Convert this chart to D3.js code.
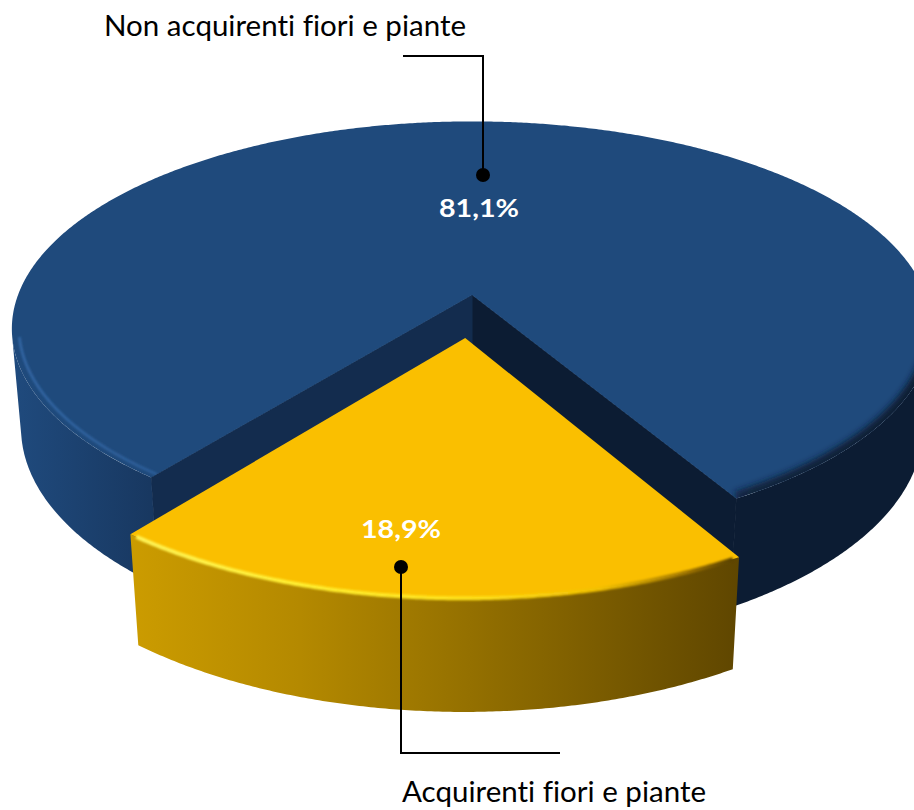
<!DOCTYPE html>
<html><head><meta charset="utf-8">
<script src="https://cdn.jsdelivr.net/npm/d3@7"></script>
<style>html,body{margin:0;padding:0;background:#fff;} svg{display:block;} text{font-variant-ligatures:none;font-feature-settings:"liga" 0,"clig" 0;}</style>
</head><body>
<svg id="chart" width="914" height="810"></svg>
<script>
// ---- data ----
const categories = ["Non acquirenti fiori e piante", "Acquirenti fiori e piante"];
const values = [81.1, 18.9];
const valueLabels = ["81,1%", "18,9%"];
const explode = [0, 0.2065];

// ---- styles / layout ----
const topColors = ["#1f4a7c", "#fabf00"];
const cutColors = [["#0c1c33", "#132c4e"], ["#7a5a00", "#a07800"]];
const sideStops = [
  [[0, "#204c80"], [150, "#183861"], [480, "#0f2444"], [720, "#0c1c33"], [914, "#0c1c33"]],
  [[120, "#cd9d00"], [300, "#b48900"], [470, "#947000"], [740, "#5f4600"]]
];
const X0 = 472, Y0 = 295, F = 2497, D = 5.5, phi = 26.4 * Math.PI / 180, depthH = 0.2456;
const startDeg = 30;
const valueLabelPos = [[479, 207], [401, 528]];
const leaderDots = [[483, 175], [401, 567]];
const leaderPaths = [[[403, 56], [483, 56], [483, 175]], [[401, 567], [401, 753], [560, 753]]];
const catLabelPos = [[104, 36, 362], [402, 802, 304]];

const sinP = Math.sin(phi), cosP = Math.cos(phi);
function proj(x, y, z) {
  const d = D - y * sinP - z * cosP;
  return [X0 + F * x / d, Y0 - F * (y * cosP - z * sinP) / d];
}

const svg = d3.select("#chart");
const defs = svg.append("defs");
const line = d3.line();

function addGrad(id, stops) {
  const g = defs.append("linearGradient").attr("id", id)
    .attr("gradientUnits", "userSpaceOnUse").attr("x1", 0).attr("x2", 914).attr("y1", 0).attr("y2", 0);
  stops.forEach(s => g.append("stop").attr("offset", s[0] / 914).attr("stop-color", s[1])
    .attr("stop-opacity", s.length > 2 ? s[2] : 1));
}
sideStops.forEach((s, i) => addGrad("side" + i, s));
addGrad("blueRim", [[0, "#3a70b2", 0.8], [160, "#3467a6", 0.7], [330, "#2d5d98", 0.3], [600, "#1f4a7c", 0], [914, "#1f4a7c", 0]]);
addGrad("blueShade", [[0, "#0c1c33", 0], [560, "#0c1c33", 0], [760, "#0c1c33", 0.9], [914, "#0c1c33", 1]]);
addGrad("yellowRim", [[120, "#fff45a"], [300, "#ffee30"], [470, "#ffe11a"], [600, "#f2c000"], [690, "#9c7200"], [740, "#4e3a00"]]);
defs.append("filter").attr("id", "blur1").append("feGaussianBlur").attr("stdDeviation", 1.2);
defs.append("filter").attr("id", "blur3").attr("x", "-20%").attr("y", "-20%").attr("width", "140%").attr("height", "140%")
  .append("feGaussianBlur").attr("stdDeviation", 3);

const pie = d3.pie().sort(null).value(d => d)
  .startAngle(startDeg * Math.PI / 180).endAngle(startDeg * Math.PI / 180 + 2 * Math.PI);
const arcs = pie(values);

function geom(a, i) {
  const mid = (a.startAngle + a.endAngle) / 2;
  const ox = explode[i] * Math.sin(mid), oz = explode[i] * Math.cos(mid);
  const P = (r, t, y) => proj(ox + r * Math.sin(t), y, oz + r * Math.cos(t));
  return { ox, oz, P, a0: a.startAngle, a1: a.endAngle };
}
function arcPts(g, r, t0, t1, y) {
  const n = Math.max(2, Math.ceil(Math.abs(t1 - t0) / (0.4 * Math.PI / 180)));
  return d3.range(n + 1).map(k => g.P(r, t0 + (t1 - t0) * k / n, y));
}
function facing(g, t) {
  const px = g.ox + Math.sin(t), pz = g.oz + Math.cos(t);
  return Math.sin(t) * (-px) + Math.cos(t) * (D * cosP - pz) > 0;
}
function runs(g) {
  const step = 0.1 * Math.PI / 180, out = [];
  let cur = null;
  for (let t = g.a0; t <= g.a1 + step; t += step) {
    const tt = Math.min(t, g.a1);
    if (facing(g, tt)) { if (!cur) cur = [tt, tt]; else cur[1] = tt; }
    else if (cur) { out.push(cur); cur = null; }
    if (tt === g.a1) break;
  }
  if (cur) out.push(cur);
  return out;
}
function cutFacing(g, t, sign) {
  const nx = sign * Math.cos(t), nz = -sign * Math.sin(t);
  return nx * (-g.ox) + nz * (D * cosP - g.oz) > 0;
}

arcs.forEach((a, i) => {
  const g = geom(a, i);
  const layer = svg.append("g").attr("class", "slice" + i);
  // cut faces (drawn first so the outer wall edge sits on top cleanly)
  [[g.a0, -1, 0], [g.a1, 1, 1]].forEach(([t, sign, k]) => {
    if (!cutFacing(g, t, sign)) return;
    const pts = [g.P(0, t, 0), g.P(1, t, 0), g.P(1, t, -depthH), g.P(0, t, -depthH)];
    layer.append("path").attr("d", line(pts) + "Z").attr("fill", cutColors[i][k])
      .attr("stroke", cutColors[i][k]).attr("stroke-width", 1).attr("stroke-linejoin", "round");
  });
  // outer wall
  runs(g).forEach(([s, e]) => {
    const pts = arcPts(g, 1, s, e, 0).concat(arcPts(g, 1, e, s, -depthH));
    layer.append("path").attr("d", line(pts) + "Z").attr("fill", `url(#side${i})`);
  });
  // top face
  const topPts = [g.P(0, 0, 0)].concat(arcPts(g, 1, g.a0, g.a1, 0));
  const topD = line(topPts) + "Z";
  layer.append("path").attr("d", topD).attr("fill", topColors[i]);
  const clipId = "clipTop" + i;
  defs.append("clipPath").attr("id", clipId).append("path").attr("d", topD);
  // bevel rim
  if (i === 0) {
    const rim = layer.append("g").attr("clip-path", `url(#${clipId})`);
    runs(g).forEach(([s, e]) => {
      rim.append("path").attr("d", line(arcPts(g, 0.985, s, e, 0))).attr("fill", "none")
        .attr("stroke", "url(#blueRim)").attr("stroke-width", 2.5).attr("filter", "url(#blur1)");
      rim.append("path").attr("d", line(arcPts(g, 1, s, e, 0))).attr("fill", "none")
        .attr("stroke", "url(#blueShade)").attr("stroke-width", 14).attr("filter", "url(#blur3)");
    });
  } else {
    const rimPts = arcPts(g, 0.995, g.a0 + 0.01, g.a1 - 0.01, -0.004);
    layer.append("path").attr("d", line(rimPts)).attr("fill", "none")
      .attr("stroke", "url(#yellowRim)").attr("stroke-width", 4).attr("filter", "url(#blur1)");
  }
});

// value labels
valueLabels.forEach((t, i) => {
  svg.append("text").attr("x", valueLabelPos[i][0]).attr("y", valueLabelPos[i][1])
    .attr("text-anchor", "middle").attr("dominant-baseline", "central")
    .attr("fill", "#fff").attr("font-family", "Lato, 'Open Sans', sans-serif")
    .attr("font-weight", "bold").attr("font-size", 25)
    .attr("textLength", 80).attr("lengthAdjust", "spacingAndGlyphs").text(t);
});

// leader lines
leaderPaths.forEach(p => {
  svg.append("path").attr("d", line(p)).attr("fill", "none").attr("stroke", "#000").attr("stroke-width", 2);
});
leaderDots.forEach(p => svg.append("circle").attr("cx", p[0]).attr("cy", p[1]).attr("r", 7).attr("fill", "#000"));

// category labels
categories.forEach((c, i) => {
  svg.append("text").attr("x", catLabelPos[i][0]).attr("y", catLabelPos[i][1])
    .attr("fill", "#000").attr("font-family", "Lato, 'Open Sans', sans-serif")
    .attr("font-size", 29)
    .attr("textLength", catLabelPos[i][2]).attr("lengthAdjust", "spacingAndGlyphs").text(c);
});
</script>
</body></html>
